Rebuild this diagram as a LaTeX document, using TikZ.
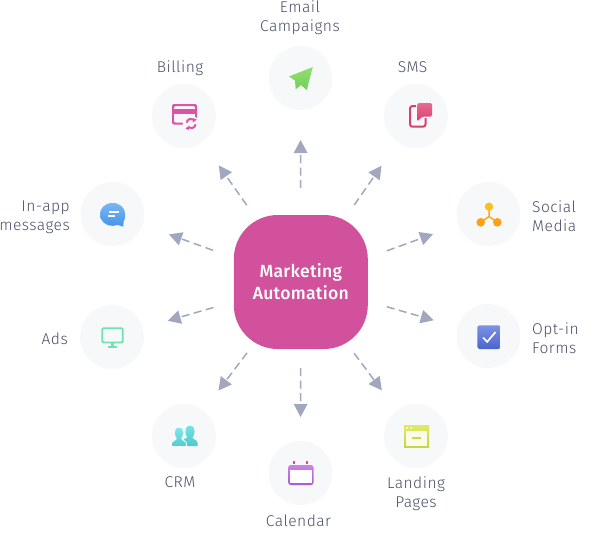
\documentclass[tikz,border=0pt]{standalone}
\usepackage{fontspec}
\setmainfont[LetterSpace=3]{Fira Sans Light}
\newfontfamily\hubfont[LetterSpace=1.5]{Fira Sans Medium}
\usetikzlibrary{arrows.meta}
\definecolor{hubc}{HTML}{D1519C}
\definecolor{disc}{HTML}{F6F8FA}
\definecolor{flowc}{HTML}{A0A7BE}
\definecolor{labelc}{HTML}{4A5069}
\definecolor{billc}{HTML}{DB55A6}
\definecolor{smsc}{HTML}{D6416F}
\tikzset{
  hubbox/.style={fill=hubc,minimum size=134pt,inner sep=0pt,rounded corners=44pt,text=white,align=center,font=\hubfont\fontsize{17.6}{22}\selectfont},
  disc/.style={circle,fill=disc,minimum size=64pt,inner sep=0pt},
  lab/.style={text=labelc,inner sep=0pt,font=\fontsize{15.6}{19}\selectfont},
  flow/.style 2 args={draw=flowc,line width=1.5pt,dash pattern=on 8pt off 4.5pt,shorten <=#1pt,shorten >=#2pt,-{Triangle[length=13pt,width=13.5pt]}},
}
\begin{document}
\begin{tikzpicture}[x=1pt,y=-1pt]
\useasboundingbox (0,0) rectangle (596,543);
\node[hubbox] (hub) at (300.8,282) {Marketing\\Automation};
\node[disc] (email) at (300.5,78) {};
\node[disc] (sms) at (416,116) {};
\node[disc] (billing) at (184,116) {};
\node[disc] (social) at (488.5,214) {};
\node[disc] (optin) at (488.5,336) {};
\node[disc] (inapp) at (112.5,214) {};
\node[disc] (ads) at (112,337) {};
\node[disc] (crm) at (184,436) {};
\node[disc] (calendar) at (300.5,473) {};
\node[disc] (landing) at (416,436) {};
\draw[flow={94}{62}] (hub.center) -- (email.center);
\draw[flow={93.7}{60.5}] (hub.center) -- (sms.center);
\draw[flow={94}{60.5}] (hub.center) -- (billing.center);
\draw[flow={91.6}{59}] (hub.center) -- (social.center);
\draw[flow={89.5}{57}] (hub.center) -- (optin.center);
\draw[flow={93.4}{60}] (hub.center) -- (inapp.center);
\draw[flow={91}{58}] (hub.center) -- (ads.center);
\draw[flow={89}{57}] (hub.center) -- (crm.center);
\draw[flow={86}{56}] (hub.center) -- (calendar.center);
\draw[flow={89}{57}] (hub.center) -- (landing.center);
% labels
\node[lab,align=center] (lemail) at (300,17.5) {Email\\Campaigns};
\node[lab] (lbilling) at (180,68) {Billing};
\node[lab] (lsms) at (412.5,67) {SMS};
\node[lab,align=right,anchor=east] (linapp) at (70,217) {In-app\\messages};
\node[lab,anchor=east] (lads) at (68,339) {Ads};
\node[lab,align=left,anchor=west] (lsocial) at (532,216.5) {Social\\Media};
\node[lab,align=left,anchor=west] (loptin) at (532,338.5) {Opt-in\\Forms};
\node[lab] (lcrm) at (180,482) {CRM};
\node[lab] (lcal) at (298.5,521) {Calendar};
\node[lab,align=center] (lland) at (416,493.5) {Landing\\Pages};
% email icon: paper plane
\shade[shift={(300.5,78)},top color={rgb,255:red,148;green,222;blue,110},bottom color={rgb,255:red,110;green,208;blue,92}]
  (-11.5,-1.5) -- (12.3,-11) -- (6.2,12) -- (0.5,7) -- (-4.8,11.3) -- (-5.5,2.5) -- cycle;
% billing icon: card and refresh
\begin{scope}[shift={(184,116)}]
\fill[billc,even odd rule,rounded corners=2pt] (-12,-12) rectangle (13,8.5) (-10.2,-10) rectangle (11.2,6.7);
\fill[billc] (-10.2,-7.3) rectangle (11.2,-2.5);
\fill[disc] (7,8) circle (8.3);
\draw[billc,line width=2pt] (2.6,6.6) arc[start angle=190,end angle=300,radius=4.6];
\draw[billc,line width=2pt] (11.6,8.4) arc[start angle=10,end angle=120,radius=4.6];
\fill[billc] (9.2,2.2) -- (12.8,3.6) -- (8.6,6.6) -- cycle;
\fill[billc] (4.8,14) -- (1.4,12.4) -- (5.4,9.6) -- cycle;
\end{scope}
% sms icon
\begin{scope}[shift={(416,116)}]
\draw[smsc,line width=2pt,rounded corners=2.5pt] (-6,-10) rectangle (9.5,10.7);
\fill[disc] (0,-14) rectangle (17,1.5);
\fill[disc] (0,-14) rectangle (4,7);
\shade[top color={rgb,255:red,234;green,104;blue,146},bottom color=smsc,rounded corners=1.5pt] (1.3,-13) -- (16,-13) -- (16,0.7) -- (6,0.7) -- (1.3,5.7) -- cycle;
\end{scope}
% in-app icon: speech bubble
\begin{scope}[shift={(112,214)}]
\shade[top color={rgb,255:red,120;green,182;blue,243},bottom color={rgb,255:red,70;green,148;blue,235}]
  (0.7,-11) .. controls (8,-11) and (13.2,-6) .. (13.2,0.5) .. controls (13.2,4) and (12.4,6) .. (11.6,7.5) -- (11.3,12.7) -- (5.5,10.8) .. controls (3.5,11.5) and (2,11.8) .. (0.7,11.8) .. controls (-7,11.8) and (-12,6.5) .. (-12,0.5) .. controls (-12,-6) and (-7,-11) .. (0.7,-11) -- cycle;
\fill[white] (-2.7,-2.9) rectangle (6.7,-1.1);
\fill[white] (-4,1) rectangle (3,2.8);
\end{scope}
% ads icon: monitor
\begin{scope}[shift={(112,337)}]
\definecolor{adsc}{HTML}{70E2AE}
\draw[adsc,line width=1.8pt,rounded corners=1.2pt] (-9.8,-8.8) rectangle (10.8,5.4);
\fill[adsc] (-0.6,6) rectangle (2,9.5);
\fill[adsc] (-3.7,9) rectangle (4.7,10.7);
\end{scope}
% social icon
\begin{scope}[shift={(488,214)}]
\draw[draw={rgb,255:red,253;green,170;blue,24},line width=1.5pt] (1,-7.3) -- (1,2.5) -- (-7.3,8.3) (1,2.5) -- (9.3,8.3);
\fill[fill={rgb,255:red,253;green,192;blue,24}] (1,-7.3) circle (4.2);
\fill[fill={rgb,255:red,253;green,160;blue,20}] (-7.3,8.3) circle (4.3);
\fill[fill={rgb,255:red,253;green,160;blue,20}] (9.3,8.3) circle (4.3);
\end{scope}
% opt-in icon
\begin{scope}[shift={(488,336)}]
\shade[top color={rgb,255:red,124;green,146;blue,228},bottom color={rgb,255:red,76;green,100;blue,204},rounded corners=2.5pt] (-10.7,-10.7) rectangle (12.7,13);
\draw[white,line width=1.7pt] (-5,1.5) -- (-0.8,5.8) -- (7.5,-4);
\end{scope}
% crm icon
\begin{scope}[shift={(184,436)}]
\shade[top color={rgb,255:red,116;green,226;blue,226},bottom color={rgb,255:red,80;green,200;blue,206}]
  (6,-10.2) .. controls (9.5,-10.2) and (11,-7) .. (10.6,-4) .. controls (10.3,-1.5) and (9.5,0.5) .. (8.6,1.6) .. controls (8.6,3.5) and (13.5,3.5) .. (13.5,7) -- (13.5,10) -- (0,10) -- (0,3) -- (3.4,1.6) .. controls (2,-0.5) and (1.4,-2) .. (1.4,-4) .. controls (1.2,-7) and (2.5,-10.2) .. (6,-10.2) -- cycle;
\shade[draw=disc,line width=0.9pt,top color={rgb,255:red,128;green,232;blue,232},bottom color={rgb,255:red,80;green,204;blue,210}]
  (-5,-8.8) .. controls (-1.5,-8.8) and (0,-6) .. (-0.3,-3) .. controls (-0.5,-0.5) and (-1.2,1) .. (-2.2,2.4) .. controls (-2.2,4.3) and (2.6,5) .. (2.6,8) -- (2.6,10.5) -- (-12.7,10.5) -- (-12.7,8) .. controls (-12.7,5) and (-7.8,4.3) .. (-7.8,2.4) .. controls (-8.8,1) and (-9.5,-0.5) .. (-9.7,-3) .. controls (-10,-6) and (-8.5,-8.8) .. (-5,-8.8) -- cycle;
\end{scope}
% calendar icon
\begin{scope}[shift={(300.5,473)}]
\definecolor{pegc}{HTML}{D9489A}
\shade[top color={rgb,255:red,205;green,130;blue,226},bottom color={rgb,255:red,170;green,88;blue,220},rounded corners=2.5pt] (-12.3,-8) rectangle (13,12);
\fill[white] (-10.2,-3) rectangle (11,10);
\fill[pegc] (-7.4,-12) rectangle (-5.2,-9);
\fill[pegc] (5.7,-12) rectangle (7.9,-9);
\end{scope}
% landing icon
\begin{scope}[shift={(416,436)}]
\shade[top color={rgb,255:red,224;green,234;blue,104},bottom color={rgb,255:red,194;green,214;blue,64}] (-12,-11) rectangle (13,11.7);
\fill[fill={rgb,255:red,250;green,251;blue,232}] (-10.3,-5.3) rectangle (11.3,10);
\fill[white] (-9,-8) circle (1);
\fill[white] (-5,-8) circle (1);
\fill[fill={rgb,255:red,200;green,216;blue,80}] (-3.7,1.3) rectangle (4.7,3.3);
\end{scope}
\end{tikzpicture}
\end{document}
